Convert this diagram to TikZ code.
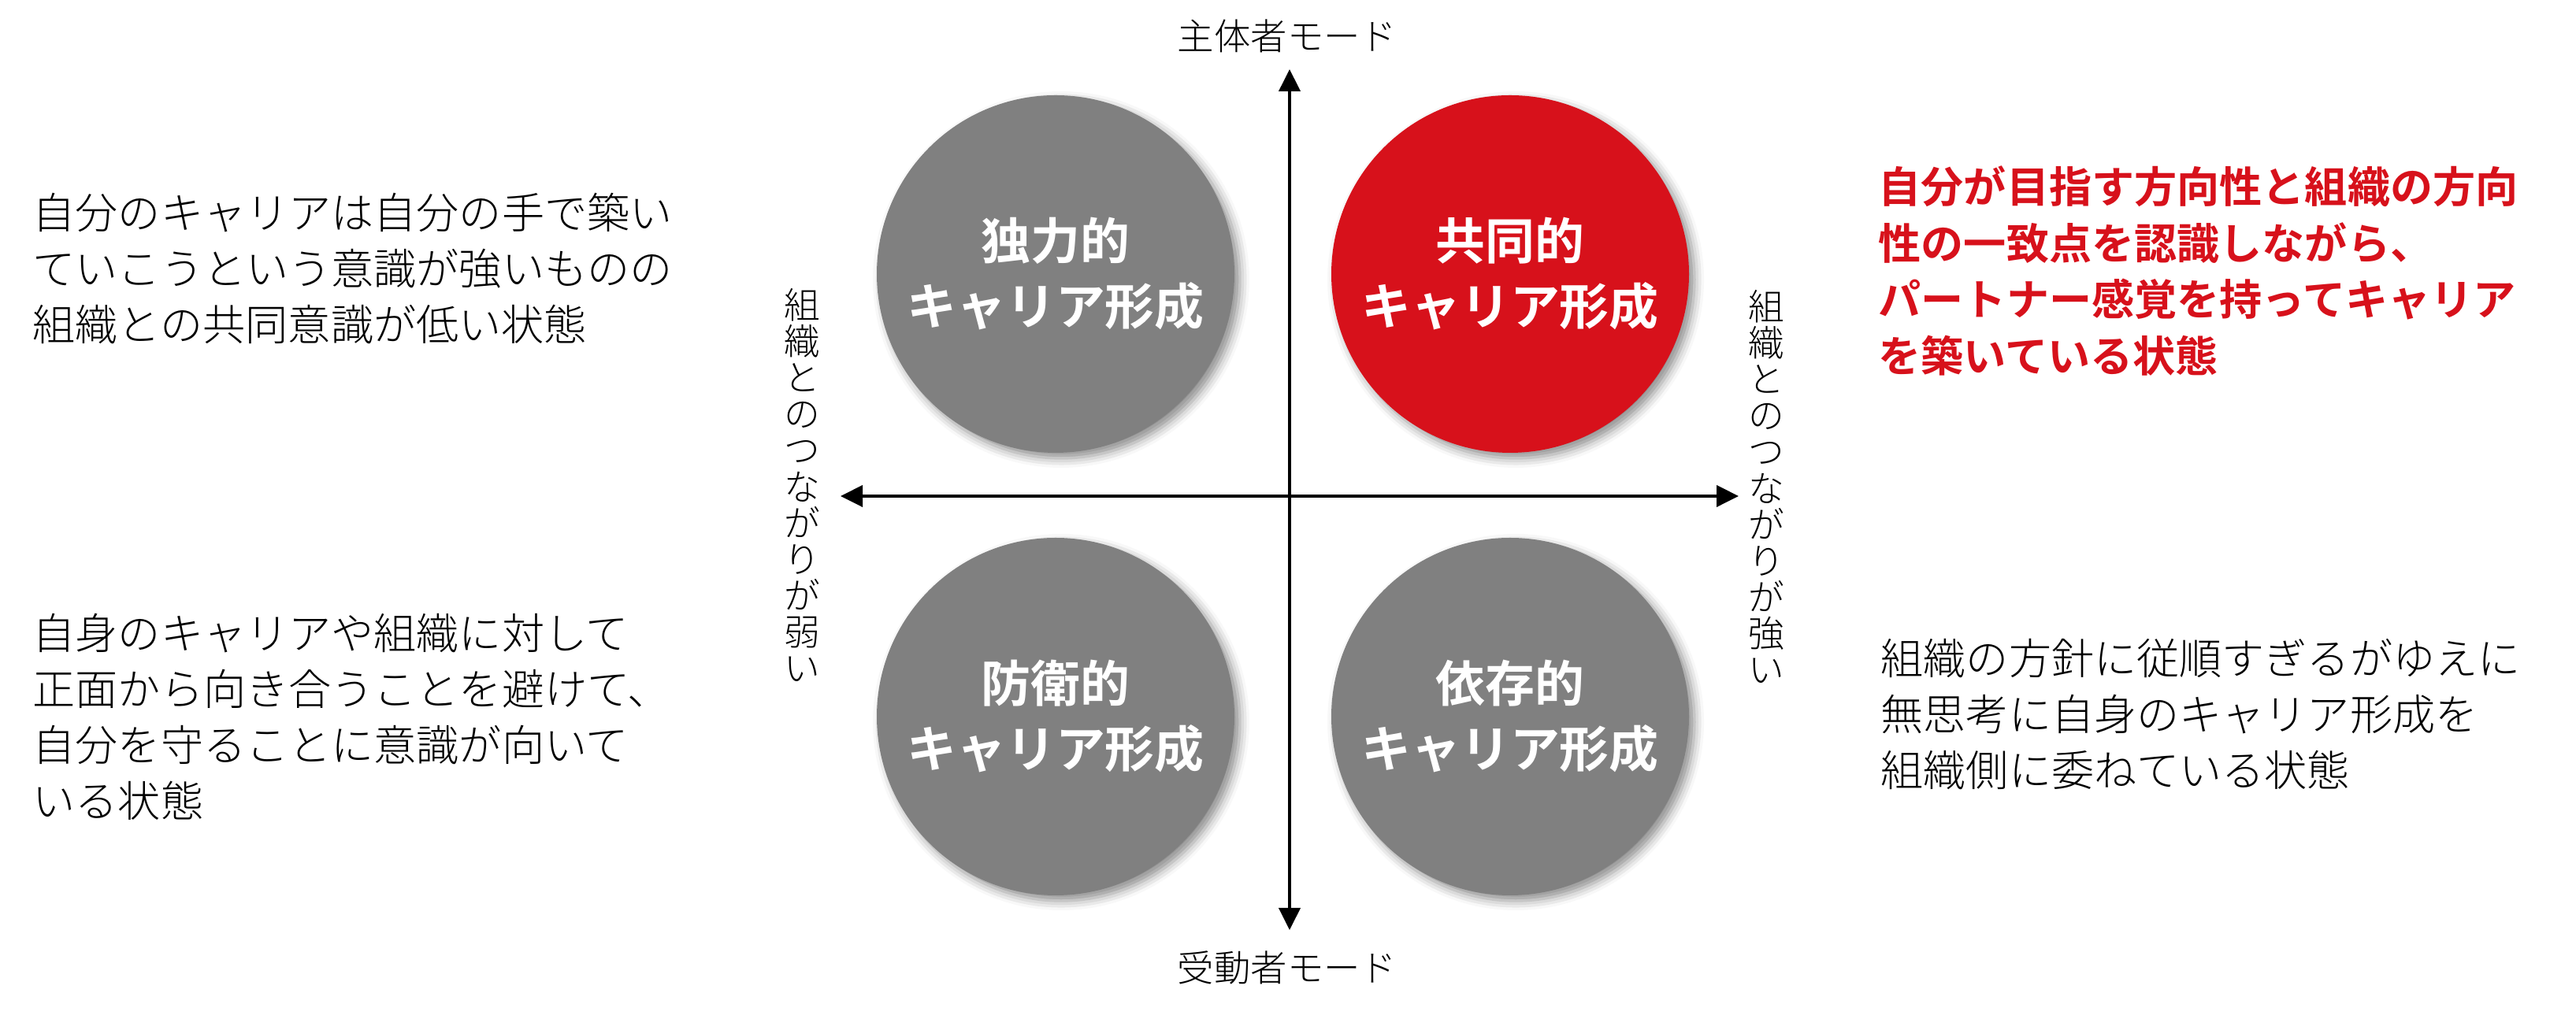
\documentclass[tikz,border=0pt]{standalone}
\usepackage{fontspec}
\setmainfont{Noto Sans CJK JP}[UprightFont=* Light, BoldFont=* Bold]
\usepackage{xcolor}
\usetikzlibrary{arrows.meta,positioning,shadows.blur}
\definecolor{careerred}{RGB}{215,17,27}
\definecolor{quadgray}{RGB}{128,128,128}

\begin{document}
\begin{tikzpicture}[
    font=\fontsize{15.4pt}{20.2pt}\selectfont,
    quad/.style={circle, minimum size=4.54cm, inner sep=0pt, fill=quadgray, text=white, align=center,
        font=\bfseries\fontsize{17.9pt}{23.6pt}\selectfont,
        blur shadow={shadow xshift=0.07cm, shadow yshift=-0.07cm, shadow blur radius=0.12cm, shadow opacity=45}},
    coop/.style={quad, fill=careerred},
    desc/.style={anchor=west, inner sep=0pt, align=left},
    axislabel/.style={inner sep=0pt, font=\fontsize{13.2pt}{15pt}\selectfont},
    sidelabel/.style={inner sep=0pt, align=center, font=\fontsize{13pt}{13.1pt}\selectfont},
    axis/.style={{Triangle[length=0.28cm, width=0.27cm]}-{Triangle[length=0.28cm, width=0.27cm]}, line width=1.1pt}
]
    \useasboundingbox (0,0) rectangle (32.7,12.94);

    % --- 1. Axes ---
    \coordinate (north) at (16.37,12.06);
    \coordinate (south) at (16.37,1.13);
    \coordinate (west) at (10.67,6.64);
    \coordinate (east) at (22.07,6.64);

    \draw[axis] (south) -- (north);
    \draw[axis] (west) -- (east);

    % Axis labels
    \node[axislabel] (active) at (16.34,12.48) {主体者モード};
    \node[axislabel] (passive) at (16.34,0.65) {受動者モード};
    \node[sidelabel] (weak) at (10.18,6.78) {組\\織\\と\\の\\つ\\な\\が\\り\\が\\弱\\い};
    \node[sidelabel] (strong) at (22.42,6.76) {組\\織\\と\\の\\つ\\な\\が\\り\\が\\強\\い};

    % --- 2. Quadrants ---
    \node[quad] (solo) at (13.40,9.46) {独力的\\キャリア形成};
    \node[coop] (joint) at (19.17,9.46) {共同的\\キャリア形成};
    \node[quad] (defense) at (13.40,3.84) {防衛的\\キャリア形成};
    \node[quad] (depend) at (19.17,3.84) {依存的\\キャリア形成};

    % --- 3. Descriptions ---
    \node[desc] (soloText) at (0.41,9.53) {自分のキャリアは自分の手で築い\\ていこうという意識が強いものの\\組織との共同意識が低い状態};
    \node[desc] (defenseText) at (0.41,3.84) {自身のキャリアや組織に対して\\正面から向き合うことを避けて、\\自分を守ることに意識が向いて\\いる状態};
    \node[desc, text=careerred, font=\bfseries\fontsize{15.4pt}{20.4pt}\selectfont] (jointText) at (23.84,9.50) {自分が目指す方向性と組織の方向\\性の一致点を認識しながら、\\パートナー感覚を持ってキャリア\\を築いている状態};
    \node[desc] (dependText) at (23.87,3.87) {組織の方針に従順すぎるがゆえに\\無思考に自身のキャリア形成を\\組織側に委ねている状態};

\end{tikzpicture}
\end{document}
